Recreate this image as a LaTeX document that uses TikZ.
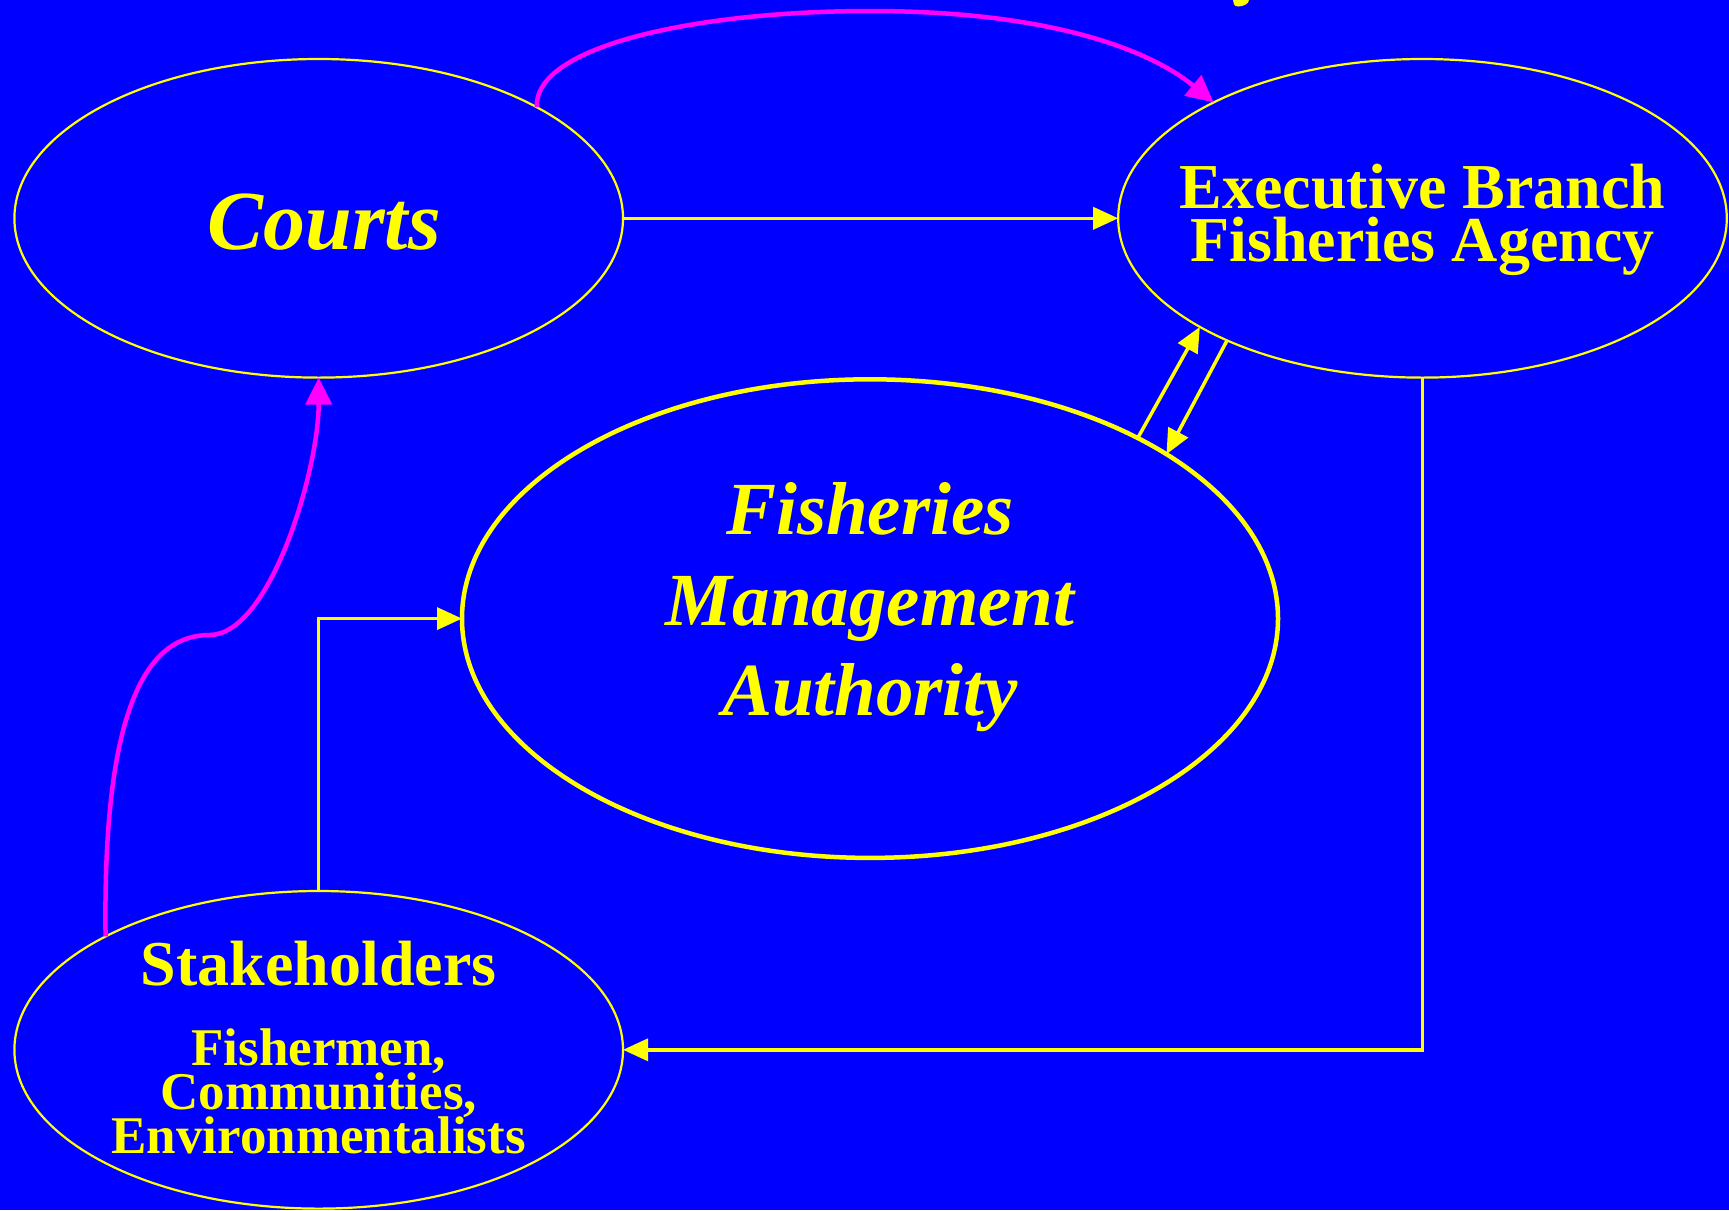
\documentclass[tikz,border=0pt]{standalone}
\usepackage{fontspec}
\setmainfont{Liberation Serif}
\usetikzlibrary{shapes.geometric,arrows.meta}
\definecolor{bg}{RGB}{0,0,255}
\definecolor{yel}{RGB}{255,255,0}
\definecolor{mag}{RGB}{255,0,255}
\begin{document}
\begin{tikzpicture}[x=1pt,y=-1pt,
  oval/.style={draw=yel, ellipse, inner sep=0pt, outer sep=0pt, line width=2.2pt},
  thickoval/.style={oval, line width=4.5pt},
  yarrow/.style={draw=yel, line width=3.5pt, -{Triangle[length=25pt,width=22pt]}},
  marrow/.style={draw=mag, line width=4.5pt, -{Triangle[length=27pt,width=26pt]}},
  lbl/.style={text=yel, anchor=base, inner sep=0pt, outer sep=0pt, text height=0.69em, text depth=0.1em},
  bigit/.style={lbl, font=\fontsize{84}{86}\selectfont\bfseries\itshape},
  midit/.style={lbl, font=\fontsize{75}{80}\selectfont\bfseries\itshape},
  bold/.style={lbl, font=\fontsize{64}{66}\selectfont\bfseries},
  small/.style={lbl, font=\fontsize{53}{55}\selectfont\bfseries}]
\fill[bg] (0,0) rectangle (1729,1210);
\useasboundingbox (0,0) rectangle (1729,1210);
% partial glyph at top edge
\fill[yel] (1233,0) -- (1249,0) .. controls (1249,4) and (1243,6.5) .. (1238,6.5) .. controls (1234,6.5) and (1233,3) .. (1233,0);
% ellipses
\node[oval, minimum width=608.6pt, minimum height=318.6pt] (courts) at (318.7,218.3) {};
\node[oval, minimum width=608.6pt, minimum height=318.6pt] (exec) at (1422.5,218.3) {};
\node[thickoval, minimum width=816pt, minimum height=478.6pt] (fma) at (870,618.6) {};
\node[oval, minimum width=608.6pt, minimum height=317.6pt] (stake) at (318.7,1049.8) {};
% labels
\node[bigit] (tcourts) at (324,249) {Courts};
\node[bold] (texec1) at (1422.5,208.4) {Executive Branch};
\node[bold] (texec2) at (1422.5,261.3) {Fisheries Agency};
\node[midit] (tfma1) at (870,534.8) {Fisheries};
\node[midit] (tfma2) at (870,625.2) {Management};
\node[midit] (tfma3) at (870,715.7) {Authority};
\node[bold] (tst1) at (318.7,985.8) {Stakeholders};
\node[small] (tst2) at (318.7,1065) {Fishermen,};
\node[small] (tst3) at (318.7,1109) {Communities,};
\node[small] (tst4) at (318.7,1153) {Environmentalists};
% connectors
\draw[yarrow] (courts.east) -- (exec.west);
\draw[yarrow] (fma.34) -- (exec.206.3);
\draw[yarrow] (exec.212.7) -- (fma.29.1);
\draw[yarrow] (stake.north) |- (fma.west);
\draw[yarrow] (exec.south) |- (stake.east);
\draw[marrow] (courts.27.6) .. controls (534,45) and (700,11) .. (870,11)
   .. controls (1050,11) and (1150,50) .. (exec.151.8);
\draw[marrow] (stake.152.5) .. controls (102.5,700) and (150,635) .. (209.5,635)
   .. controls (270,635) and (318.7,470) .. (courts.south);
\end{tikzpicture}
\end{document}
